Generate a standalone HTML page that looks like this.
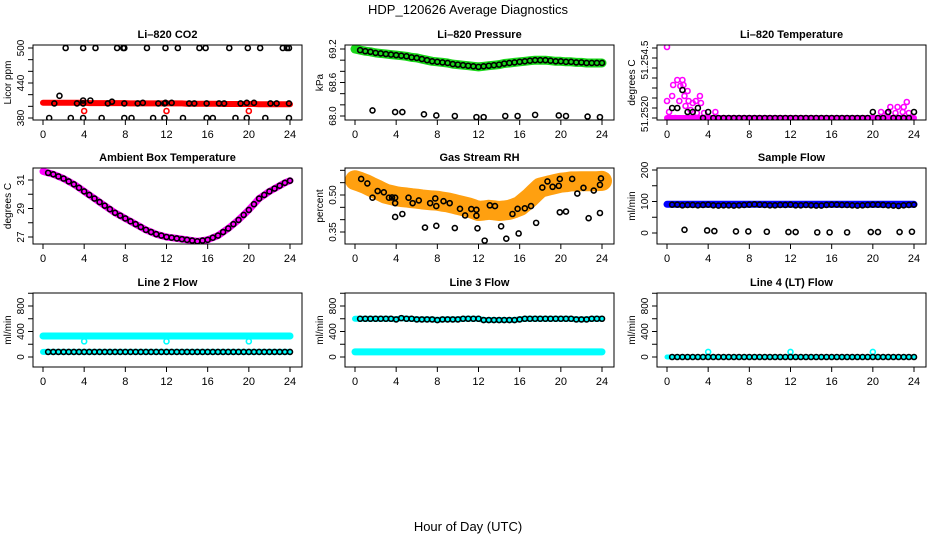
<!DOCTYPE html>
<html><head><meta charset="utf-8"><title>HDP_120626 Average Diagnostics</title>
<style>
html,body{margin:0;padding:0;background:#fff;}
svg{display:block;font-family:"Liberation Sans",Helvetica,Arial,sans-serif;}
</style></head>
<body>
<svg id="chart" width="936" height="540" viewBox="0 0 936 540" xmlns="http://www.w3.org/2000/svg">
<text x="468" y="14" text-anchor="middle" font-size="13">HDP_120626  Average Diagnostics</text>
<text x="468" y="531" text-anchor="middle" font-size="13">Hour of Day (UTC)</text>
</svg>
<script>
const HOURS = [0,0.5,1,1.5,2,2.5,3,3.5,4,4.5,5,5.5,6,6.5,7,7.5,8,8.5,9,9.5,10,10.5,11,11.5,12,12.5,13,13.5,14,14.5,15,15.5,16,16.5,17,17.5,18,18.5,19,19.5,20,20.5,21,21.5,22,22.5,23,23.5,24];
const X_TICKS = [0,4,8,12,16,20,24];

// CO2
const co2Band = [406,406,406,406,406,406,406,406,406,405.5,405.5,405.5,405.5,405.5,405.5,405.5,405.5,405,405,405,405,405,405,405,405,405,405,405,404.5,404.5,404.5,404.5,404.5,404.5,404.5,404,404,404,404,404,404,404,403.5,403.5,403.5,403.5,403.5,403.5,403.5];
const co2Hours = [1.1,3.3,3.9,4.6,6.3,6.7,7.9,9.2,9.7,11.2,11.8,11.9,12.5,14.2,14.7,15.9,17.1,17.6,19.2,19.8,20.5,22.1,22.7,23.9,1.6,3.9, 2.2,3.9,5.1,7.2,7.8,7.9,10.1,11.9,13.1,15.2,15.8,18.1,19.9,21.1,23.3,23.7,23.9, 0.6,2.7,3.9,5.7,7.9,8.6,10.7,11.8,13.6,15.9,16.5,18.7,19.8,21.6,23.9];
const co2Values = [405,405,405,410,405,408,405,405,406,405,405,406,406,405,405,405,405,405,405,406,406,405,405,405,418,410, 500,500,500,500,500,500,500,500,500,500,500,500,500,500,500,500,500, 380,380,380,380,380,380,380,380,380,380,380,380,380,380,380];
const co2RedHours = [4.0,12.0,20.0];
const co2RedValues = [392,392,392];

// Pressure
const pressBand = [69.2,69.18,69.16,69.15,69.13,69.12,69.11,69.1,69.09,69.08,69.07,69.05,69.04,69.02,69.0,68.98,68.97,68.96,68.95,68.93,68.92,68.91,68.9,68.89,68.88,68.89,68.9,68.91,68.92,68.94,68.95,68.96,68.97,68.98,68.99,69.0,69.0,69.0,68.99,68.98,68.98,68.97,68.97,68.96,68.96,68.95,68.95,68.95,68.95];
const pressOutHours = [1.7,3.9,4.6,6.7,7.9,9.7,11.8,12.5,14.6,15.8,17.5,19.8,20.5,22.6,23.8];
const pressOutValues = [68.1,68.07,68.07,68.03,68.01,68.0,67.98,67.98,68.0,68.0,68.02,68.01,68.0,67.99,67.98];

// Li-820 temperature
const tempMagHours = [0,0,0.2,0.5,0.6,0.8,1.0,1.2,1.3,1.5,1.6,1.7,1.8,2.0,2.1,2.3,2.5,2.6,2.8,2.9,3.2,3.3,3.6,3.8,4.7,20.8,21.4,21.7,22.2,22.4,22.9,23.0,23.3,23.5];
const tempMagValues = [51.25555,51.25285,51.2523,51.2531,51.25365,51.252,51.2539,51.25285,51.2536,51.2539,51.25365,51.2531,51.2526,51.25335,51.25285,51.2524,51.25275,51.252,51.25285,51.25225,51.2531,51.25275,51.25225,51.252,51.2523,51.2523,51.25225,51.25255,51.25225,51.25255,51.2523,51.25255,51.2528,51.25225];
const tempBand = [51.252,51.252,51.252,51.252,51.252,51.252,51.252,51.252,51.252,51.252,51.252,51.252,51.252,51.252,51.252,51.252,51.252,51.252,51.252,51.252,51.252,51.252,51.252,51.252,51.252,51.252,51.252,51.252,51.252,51.252,51.252,51.252,51.252,51.252,51.252,51.252,51.252,51.252,51.252,51.252,51.252,51.252,51.252,51.252,51.252,51.252,51.252,51.252,51.252];
const tempBlack = [51.252,51.2525,51.2525,51.2534,51.2523,51.2523,51.2525,51.252,51.2523,51.252,51.252,51.252,51.252,51.252,51.252,51.252,51.252,51.252,51.252,51.252,51.252,51.252,51.252,51.252,51.252,51.252,51.252,51.252,51.252,51.252,51.252,51.252,51.252,51.252,51.252,51.252,51.252,51.252,51.252,51.252,51.2523,51.252,51.252,51.2523,51.252,51.252,51.252,51.252,51.2523];

// Ambient box temperature
const ambBand = [31.6,31.5,31.4,31.25,31.1,30.9,30.7,30.45,30.2,29.95,29.7,29.45,29.2,28.95,28.7,28.5,28.3,28.1,27.9,27.7,27.5,27.35,27.2,27.1,27.0,26.95,26.9,26.85,26.8,26.75,26.7,26.75,26.8,26.95,27.1,27.35,27.6,27.9,28.2,28.55,28.9,29.3,29.7,29.95,30.2,30.4,30.6,30.8,30.95];

// Gas stream RH
const rhBand = [.56,.553,.545,.535,.525,.515,.505,.5,.495,.492,.49,.487,.485,.482,.48,.478,.477,.473,.47,.465,.46,.455,.45,.443,.435,.437,.44,.438,.435,.437,.44,.447,.455,.472,.49,.51,.53,.535,.54,.545,.55,.552,.555,.555,.556,.556,.556,.556,.557];
const rhHours = [0.6,1.2,1.7,2.2,2.8,3.3,3.6,3.9,3.9,3.9,4.6,5.2,5.6,6.2,6.8,7.3,7.8,7.9,7.9,8.6,9.2,9.7,10.2,10.7,11.3,11.8,11.8,11.9,12.6,13.1,13.6,14.2,14.7,15.3,15.8,15.9,16.5,17.1,17.6,18.2,18.7,19.2,19.8,19.9,19.9,20.5,21.1,21.6,22.2,22.7,23.2,23.8,23.9,23.8];
const rhValues = [.565,.547,.489,.516,.511,.489,.49,.489,.467,.411,.423,.489,.467,.478,.368,.467,.486,.455,.375,.475,.467,.366,.444,.417,.443,.44,.416,.365,.315,.458,.455,.373,.323,.423,.444,.344,.446,.455,.387,.53,.555,.533,.537,.565,.43,.433,.565,.506,.529,.406,.518,.541,.567,.427];

// Sample flow
const sampBand = [91,91,91,91,91,91,91,91,91,91,91,91,91,91,91,91,91,91,91,91,91,91,91,91,91,91,91,91,91,91,91,91,91,91,91,91,91,91,91,91,91,91,91,91,91,91,91,91,91];
const sampBlack = [90,90,90,88,89,89,88,89,90,88,87,88,88,87,88,89,90,91,90,89,88,88,89,89,90,88,88,89,88,87,87,89,90,90,89,89,88,87,88,89,90,90,89,88,87,86,88,89,90];
const sampOutHours = [1.7,3.9,4.6,6.7,7.9,9.7,11.8,12.5,14.6,15.8,17.5,19.8,20.5,22.6,23.8];
const sampOutValues = [10,8,6,5,5,4,3,3,2,2,2,3,3,3,4];

// Line 2 flow
const l2High = [330,330,330,330,330,330,330,330,330,330,330,330,330,330,330,330,330,330,330,330,330,330,330,330,330,330,330,330,330,330,330,330,330,330,330,330,330,330,330,330,330,330,330,330,330,330,330,330,330];
const l2Low = [80,80,80,80,80,80,80,80,80,80,80,80,80,80,80,80,80,80,80,80,80,80,80,80,80,80,80,80,80,80,80,80,80,80,80,80,80,80,80,80,80,80,80,80,80,80,80,80,80];
const l2DipHours = [4,12,20];
const l2DipValues = [245,245,245];

// Line 3 flow
const l3High = [600,600,600,600,600,600,600,600,590,610,600,600,590,590,590,590,580,590,590,590,590,600,600,600,600,580,580,580,580,580,580,580,590,600,600,600,600,600,600,600,600,600,600,590,590,590,600,600,600];
const l3Low = [80,80,80,80,80,80,80,80,80,80,80,80,80,80,80,80,80,80,80,80,80,80,80,80,80,80,80,80,80,80,80,80,80,80,80,80,80,80,80,80,80,80,80,80,80,80,80,80,80];

// Line 4 flow
const l4Base = [0,0,0,0,0,0,0,0,0,0,0,0,0,0,0,0,0,0,0,0,0,0,0,0,0,0,0,0,0,0,0,0,0,0,0,0,0,0,0,0,0,0,0,0,0,0,0,0,0];
const l4SpikeHours = [4,12,20];
const l4SpikeValues = [80,80,80];

const SVGNS = "http://www.w3.org/2000/svg";
const svg = document.getElementById('chart');
function mk(tag, attrs, parent){
  const e = document.createElementNS(SVGNS, tag);
  for (const k in attrs) e.setAttribute(k, attrs[k]);
  (parent||svg).appendChild(e);
  return e;
}
let clipId = 0;
function makePanel(cfg){
  const g = mk('g', {});
  
  
  const sx = t => cfg.t0 + t*(cfg.t24-cfg.t0)/24;
  const sy = v => cfg.p0 + (v-cfg.v0)*(cfg.p1-cfg.p0)/(cfg.v1-cfg.v0);
  clipId++;
  const cp = mk('clipPath', {id:'clip'+clipId}, g);
  mk('rect', {x:cfg.bx0, y:cfg.by0, width:cfg.bx1-cfg.bx0, height:cfg.by1-cfg.by0}, cp);
  const plot = mk('g', {'clip-path':'url(#clip'+clipId+')'}, g);
  
  
  const box = mk('rect', {x:cfg.bx0, y:cfg.by0, width:cfg.bx1-cfg.bx0, height:cfg.by1-cfg.by0, fill:'none', stroke:'#000', 'stroke-width':1}, g);
  
  
  const title = mk('text', {x:(cfg.bx0+cfg.bx1)/2, y:cfg.by0-7, 'text-anchor':'middle', 'font-size':11, 'font-weight':'bold'}, g);
  title.textContent = cfg.title;
  
  
  const yt = mk('text', {transform:`translate(${cfg.bx0-22},${(cfg.by0+cfg.by1)/2}) rotate(-90)`, 'text-anchor':'middle', 'font-size':10}, g);
  yt.textContent = cfg.ylab;
  
  
  const xa = mk('g', {}, g);
  
  
  mk('line', {x1:sx(0), x2:sx(24), y1:cfg.by1, y2:cfg.by1, stroke:'#000'}, xa);
  X_TICKS.forEach(t => {
    mk('line', {x1:sx(t), x2:sx(t), y1:cfg.by1, y2:cfg.by1+5, stroke:'#000'}, xa);
    const tl = mk('text', {x:sx(t), y:cfg.by1+18, 'text-anchor':'middle', 'font-size':11}, xa);
    tl.textContent = t;
    
    
  });
  const ya = mk('g', {}, g);
  
  
  cfg.ticks.forEach(v => mk('line', {x1:cfg.bx0-5, x2:cfg.bx0, y1:sy(v), y2:sy(v), stroke:'#000'}, ya));
  cfg.labels.forEach(l => {
    const tl = mk('text', {transform:`translate(${cfg.bx0-9},${sy(l[0])+(l[2]||0)}) rotate(-90)`, 'text-anchor':'middle', 'font-size':10}, ya);
    tl.textContent = l[1];
    
    
  });
  return {plot, sx, sy};
}
function band(p, hours, vals, color, w, name){
  const pts = hours.map((h,i) => p.sx(h).toFixed(1)+','+p.sy(vals[i]).toFixed(1)).join(' ');
  const e = mk('polyline', {points:pts, fill:'none', stroke:color, 'stroke-width':w, 'stroke-linecap':'round', 'stroke-linejoin':'round'}, p.plot);
  
  
}
function dots(p, hours, vals, color, name, from){
  const g = mk('g', {}, p.plot);
  
  
  hours.forEach((h,i) => {
    if (from !== undefined && h < from) return;
    const c = mk('circle', {cx:p.sx(h), cy:p.sy(vals[i]), r:2.5, fill:'none', stroke:color, 'stroke-width':1.6}, g);
    
    
  });
}
function range(a,b,s){const r=[];for(let v=a;v<=b+1e-9;v+=s)r.push(+v.toFixed(6));return r;}

const COLS = [[33,302,43,290],[345,614,355,602],[657,926,667,914]];
const ROWS = [[45,120],[168,244],[293,367]];
function geo(r,c){return {bx0:COLS[c][0],bx1:COLS[c][1],t0:COLS[c][2],t24:COLS[c][3],by0:ROWS[r][0],by1:ROWS[r][1]};}

// Panel 1 CO2
let p = makePanel(Object.assign(geo(0,0), {name:'co2-panel', title:'Li\u2013820 CO2', ylab:'Licor ppm', v0:380,p0:118,v1:500,p1:48, ticks:range(380,500,20), labels:[[380,'380'],[440,'440'],[500,'500']]}));
band(p, HOURS, co2Band, '#ff0000', 6, 'co2-red-band');
dots(p, co2RedHours, co2RedValues, '#ff0000', 'co2-red-outliers');
dots(p, co2Hours, co2Values, '#000', 'co2-black-points');

// Panel 2 Pressure
p = makePanel(Object.assign(geo(0,1), {name:'pressure-panel', title:'Li\u2013820 Pressure', ylab:'kPa', v0:68.0,p0:116,v1:69.2,p1:49, ticks:range(68.0,69.2,0.2), labels:[[68.0,'68.0'],[68.6,'68.6'],[69.2,'69.2']]}));
band(p, HOURS, pressBand, '#18d818', 9, 'pressure-green-band');
dots(p, HOURS, pressBand, '#000', 'pressure-black-points', 0.5);
dots(p, pressOutHours, pressOutValues, '#000', 'pressure-outliers');

// Panel 3 Li-820 temperature
p = makePanel(Object.assign(geo(0,2), {name:'licor-temp-panel', title:'Li\u2013820 Temperature', ylab:'degrees C', v0:51.252,p0:118,v1:51.2555,p1:48, ticks:range(51.252,51.2555,0.0005), labels:[[51.252,'51.2520',-4],[51.2545,'51.254.5',-8]]}));
band(p, HOURS, tempBand, '#ff00ff', 6, 'licor-temp-magenta-band');
dots(p, tempMagHours, tempMagValues, '#ff00ff', 'licor-temp-magenta-points');
dots(p, HOURS, tempBlack, '#000', 'licor-temp-black-points', 0.5);

// Panel 4 Ambient
p = makePanel(Object.assign(geo(1,0), {name:'ambient-temp-panel', title:'Ambient Box Temperature', ylab:'degrees C', v0:27,p0:237,v1:31,p1:180, ticks:range(27,31,1), labels:[[27,'27'],[29,'29'],[31,'31']]}));
band(p, HOURS, ambBand, '#ff00ff', 7, 'ambient-temp-band');
dots(p, HOURS, ambBand, '#000', 'ambient-temp-black-points', 0.5);

// Panel 5 Gas RH
p = makePanel(Object.assign(geo(1,1), {name:'gas-rh-panel', title:'Gas Stream RH', ylab:'percent', v0:0.35,p0:232,v1:0.50,p1:195, ticks:range(0.35,0.60,0.05), labels:[[0.35,'0.35'],[0.50,'0.50']]}));
band(p, HOURS, rhBand, '#ffa010', 20, 'gas-rh-band');
dots(p, rhHours, rhValues, '#000', 'gas-rh-black-points');

// Panel 6 Sample flow
p = makePanel(Object.assign(geo(1,2), {name:'sample-flow-panel', title:'Sample Flow', ylab:'ml/min', v0:0,p0:233,v1:200,p1:170, ticks:range(0,200,50), labels:[[0,'0'],[100,'100'],[200,'200']]}));
band(p, HOURS, sampBand, '#0000ff', 7, 'sample-flow-blue-band');
dots(p, HOURS, sampBlack, '#000', 'sample-flow-black-points', 0.5);
dots(p, sampOutHours, sampOutValues, '#000', 'sample-flow-outliers');

// Panel 7 Line 2
p = makePanel(Object.assign(geo(2,0), {name:'line2-flow-panel', title:'Line 2 Flow', ylab:'ml/min', v0:0,p0:357,v1:800,p1:306, ticks:range(0,1000,200), labels:[[0,'0'],[400,'400'],[800,'800']]}));
band(p, HOURS, l2High, '#00ffff', 7, 'line2-high-band');
dots(p, l2DipHours, l2DipValues, '#00ffff', 'line2-dips');
band(p, HOURS, l2Low, '#00ffff', 6, 'line2-low-band');
dots(p, HOURS, l2Low, '#000', 'line2-black-points', 0.5);

// Panel 8 Line 3
p = makePanel(Object.assign(geo(2,1), {name:'line3-flow-panel', title:'Line 3 Flow', ylab:'ml/min', v0:0,p0:357,v1:800,p1:306, ticks:range(0,1000,200), labels:[[0,'0'],[400,'400'],[800,'800']]}));
band(p, HOURS, l3High, '#00ffff', 6, 'line3-high-band');
dots(p, HOURS, l3High, '#000', 'line3-black-points', 0.5);
band(p, HOURS, l3Low, '#00ffff', 7, 'line3-low-band');

// Panel 9 Line 4
p = makePanel(Object.assign(geo(2,2), {name:'line4-flow-panel', title:'Line 4 (LT) Flow', ylab:'ml/min', v0:0,p0:357,v1:800,p1:306, ticks:range(0,1000,200), labels:[[0,'0'],[400,'400'],[800,'800']]}));
band(p, HOURS, l4Base, '#00ffff', 5, 'line4-cyan-band');
dots(p, l4SpikeHours, l4SpikeValues, '#00ffff', 'line4-spikes');
dots(p, HOURS, l4Base, '#000', 'line4-black-points', 0.5);
</script>
</body></html>
